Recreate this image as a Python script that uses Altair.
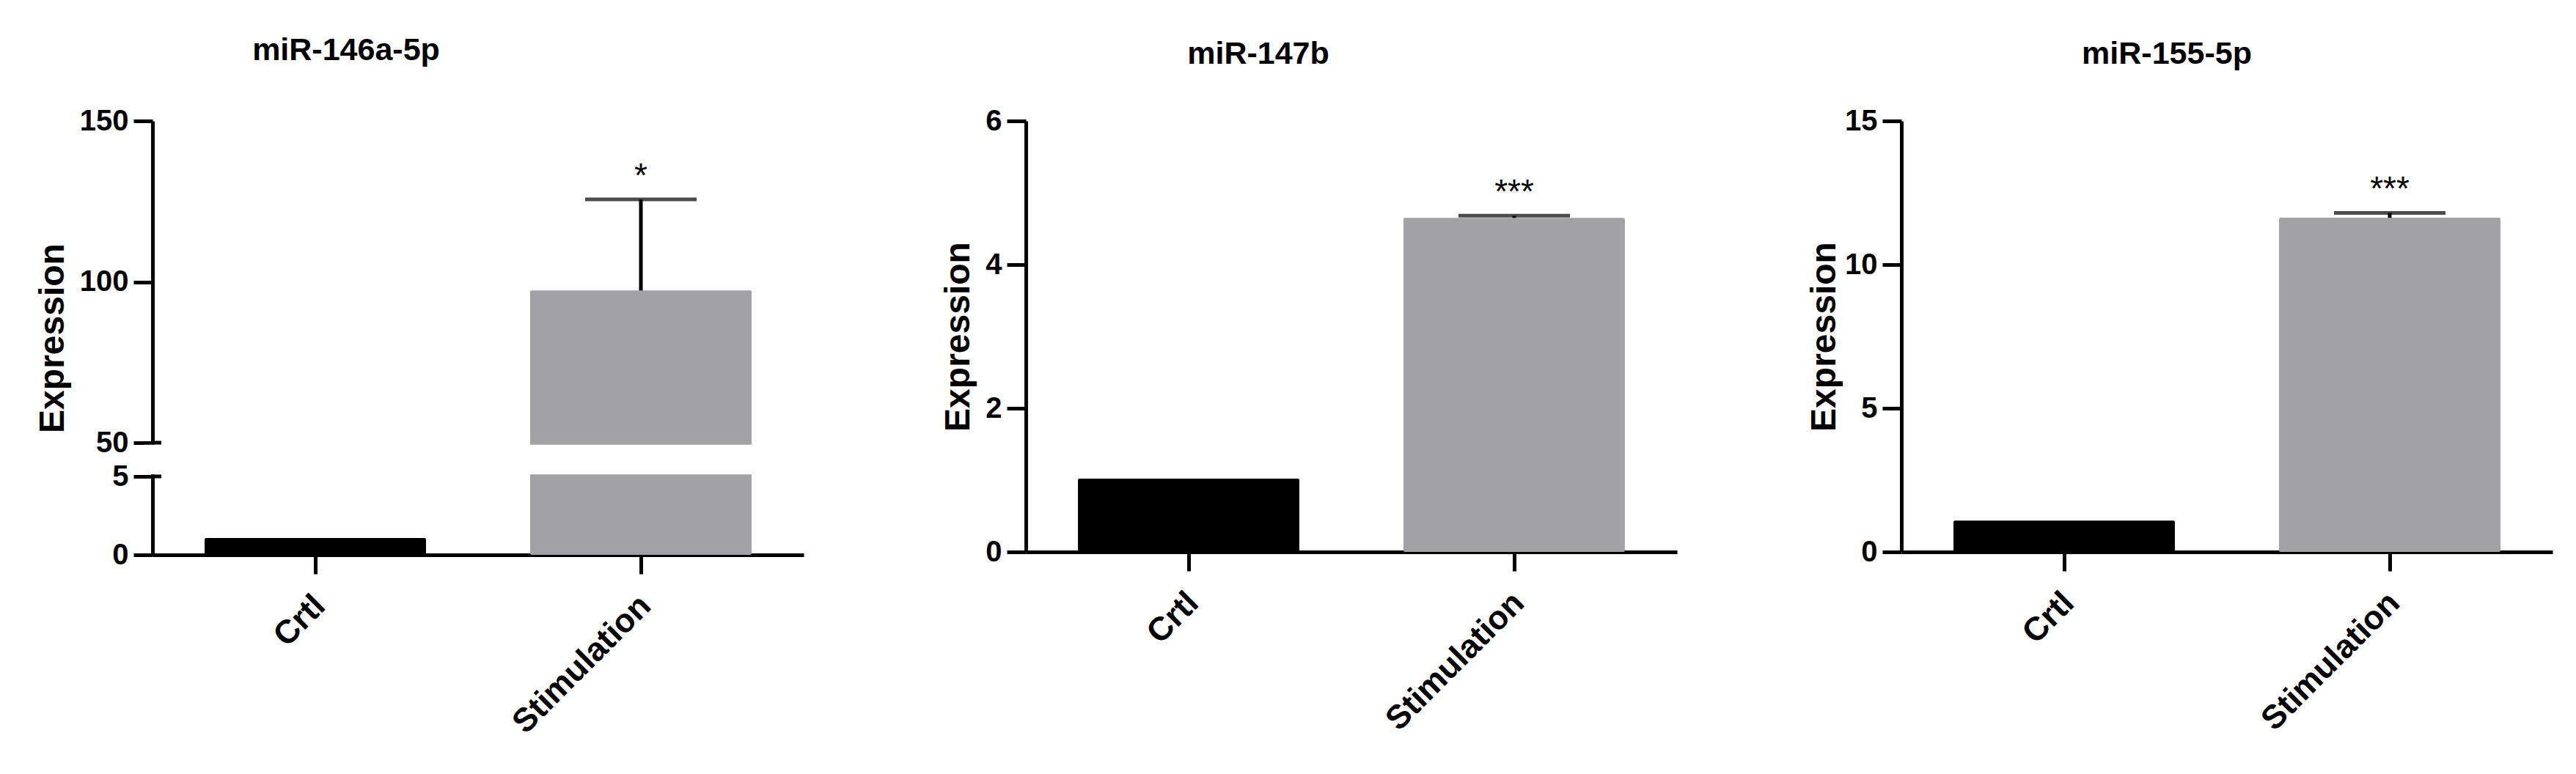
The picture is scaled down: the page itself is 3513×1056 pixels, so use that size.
import altair as alt
import pandas as pd

# ---------------- data ----------------
groups = ["Crtl", "Stimulation"]
panel_titles = ["miR-146a-5p", "miR-147b", "miR-155-5p"]

mir146_mean = [1.07, 97.3]
mir146_sd = [None, 28.3]
mir146_sig = ["", "*"]

mir147_mean = [1.02, 4.65]
mir147_sd = [None, 0.03]
mir147_sig = ["", "***"]

mir155_mean = [1.09, 11.63]
mir155_sd = [None, 0.17]
mir155_sig = ["", "***"]

bar_colors = ["#000000", "#a2a1a6"]

ticks146 = [0, 5, 50, 100, 150]
ticks147 = [0, 2, 4, 6]
ticks155 = [0, 5, 10, 15]
# broken axis of panel 1: lower segment 0-5, upper segment 50-150
break_low = 5
break_high = 50

# ---------------- styling ----------------
FONT = "Liberation Sans"
PLOT_W = 888
PLOT_H = 588
P1_H = 592
P1_BREAK_LOW_PX = 485   # pixel (from top) of value 5 in panel 1
P1_BREAK_HIGH_PX = 439  # pixel (from top) of value 50 in panel 1
LINE_W = 5
CAP_W = 152
TITLE_OFFSET = 49
TITLE_DX = [-180, -127, -82]


def frame(mean, sd, sig):
    df = pd.DataFrame({"group": groups, "mean": mean, "sd": sd, "sig": sig})
    df["sd"] = pd.to_numeric(df["sd"])
    df["upper"] = df["mean"] + df["sd"]
    return df


X_AXIS = alt.Axis(
    title=None,
    labelAngle=-45,
    labelAlign="right",
    labelBaseline="middle",
    labelFontSize=45,
    labelPadding=36,
    labelOffset=6,
    labelLimit=0,
)
X_SCALE = alt.Scale(domain=groups, paddingInner=0.32, paddingOuter=0.16)


def xenc():
    return alt.X("group:N", sort=groups, scale=X_SCALE, axis=X_AXIS)


def make_y(scale, ticks, title_pad=12):
    axis = alt.Axis(values=ticks, format="d", title="Expression",
                    titlePadding=title_pad)

    def y(field):
        return alt.Y(field, type="quantitative", scale=scale, axis=axis)

    return y


def layers(df, y):
    color = alt.Color(
        "group:N", scale=alt.Scale(domain=groups, range=bar_colors), legend=None
    )
    bars = alt.Chart(df).mark_bar(cornerRadius=2).encode(
        x=xenc(), y=y("mean"), y2=alt.datum(0), color=color
    )
    err = alt.Chart(df.dropna(subset=["upper"]))
    whisker = err.mark_rule(color="black", strokeWidth=LINE_W).encode(
        x=xenc(), y=y("mean"), y2="upper:Q"
    )
    cap = err.mark_tick(color="black", size=CAP_W, thickness=LINE_W).encode(
        x=xenc(), y=y("upper")
    )
    stars = err.mark_text(
        font=FONT, fontSize=46, fontWeight="normal", color="black",
        baseline="alphabetic", dy=-17,
    ).encode(x=xenc(), y=y("upper"), text="sig:N")
    return [bars, whisker, cap, stars]


def title_params(text, dx, extra=0):
    return alt.TitleParams(
        text=text, font=FONT, fontSize=43, fontWeight="bold", color="black",
        anchor="middle", offset=TITLE_OFFSET + extra, dx=dx,
    )


# ---------------- panel 1 (broken axis via piecewise scale) ----------------
df146 = frame(mir146_mean, mir146_sd, mir146_sig)
scale146 = alt.Scale(
    domain=[0, break_low, break_high, 150],
    range=[P1_H, P1_BREAK_LOW_PX, P1_BREAK_HIGH_PX, 0],
    nice=False,
    zero=False,
)
y146 = make_y(scale146, ticks146)

gap_df = pd.DataFrame({"lo": [break_low + 2.6], "hi": [break_high - 2.6]})
gap = alt.Chart(gap_df).mark_rect(color="white").encode(
    y=y146("lo"), y2="hi:Q", x=alt.value(-12), x2=alt.value(PLOT_W + 10)
)
brk_df = pd.DataFrame({"v": [break_low, break_high]})
brk = alt.Chart(brk_df).mark_rule(color="black", strokeWidth=LINE_W).encode(
    y=y146("v"), x=alt.value(0), x2=alt.value(12)
)

panel1 = alt.layer(*layers(df146, y146), gap, brk).properties(
    width=PLOT_W, height=P1_H,
    title=title_params(panel_titles[0], TITLE_DX[0], extra=5),
)

# ---------------- panel 2 ----------------
df147 = frame(mir147_mean, mir147_sd, mir147_sig)
y147 = make_y(alt.Scale(domain=[0, 6], nice=False, zero=False), ticks147)
panel2 = alt.layer(*layers(df147, y147)).properties(
    width=PLOT_W, height=PLOT_H,
    title=title_params(panel_titles[1], TITLE_DX[1]),
)

# ---------------- panel 3 ----------------
df155 = frame(mir155_mean, mir155_sd, mir155_sig)
y155 = make_y(alt.Scale(domain=[0, 15], nice=False, zero=False), ticks155,
              title_pad=3)
panel3 = alt.layer(*layers(df155, y155)).properties(
    width=PLOT_W, height=PLOT_H,
    title=title_params(panel_titles[2], TITLE_DX[2]),
)

chart = (
    alt.hconcat(panel1, panel2, panel3, spacing=177)
    .properties(padding={"left": 40, "top": 40, "right": 5, "bottom": 5})
    .configure_view(stroke=None)
    .configure_axis(
        grid=False,
        domainColor="black",
        domainWidth=LINE_W,
        tickColor="black",
        tickWidth=LINE_W,
        tickSize=26,
        labelFont=FONT,
        labelFontWeight="bold",
        labelFontSize=40,
        labelColor="black",
        labelPadding=7,
        titleFont=FONT,
        titleFontWeight="bold",
        titleFontSize=48,
        titleColor="black",
    )
)

chart.save("out.html", embed_options={"renderer": "svg", "actions": False})
